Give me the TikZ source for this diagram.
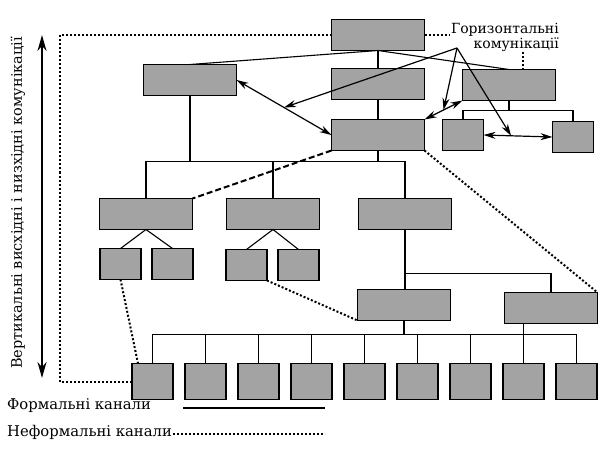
\documentclass[tikz,border=0pt]{standalone}
\usepackage{fontspec}
\setmainfont{DejaVu Serif}
\usetikzlibrary{arrows.meta, positioning, calc}

\begin{document}
\begin{tikzpicture}[
    x=1pt, y=-1pt,
    node distance=18pt and 12pt,
    >={Stealth[length=12pt, width=7pt]},
    font=\fontsize{14}{15}\selectfont,
    unit/.style={rectangle, draw, line width=1.3pt, fill=black!36, minimum width=93pt, minimum height=31pt, inner sep=0pt, outer sep=0pt},
    small/.style={unit, minimum width=41pt},
    cell/.style={unit, minimum width=41pt, minimum height=36pt},
    link/.style={line width=1.1pt},
    informal/.style={line width=2pt, dash pattern=on 2pt off 2pt},
    hint/.style={line width=2pt, dash pattern=on 6pt off 3pt},
    comm/.style={<->, line width=1.2pt},
    legendtext/.style={anchor=west, inner sep=0pt, font=\fontsize{14.8}{16}\selectfont}
]
\useasboundingbox (0,0) rectangle (600,452);
% boxes, top to bottom
\node[unit] (head) at (378,35) {};
\node[unit, below=18pt of head] (deptm) {};
\node[unit] (deptl) at (190,80) {};
\node[unit] (deptr) at (509,85) {};
\node[unit, below=20pt of deptm] (office) {};
\node[small] (acct) at (463,135) {};
\node[small] (audit) at (573,137) {};
\node[unit] (shopa) at (146,214) {};
\node[unit, right=34pt of shopa] (shopb) {};
\node[unit, right=39pt of shopb] (shopc) {};
\node[small] (teama1) at (120.5,264) {};
\node[small, right=11pt of teama1] (teama2) {};
\node[small] (teamb1) at (246.5,265) {};
\node[small, right=11pt of teamb1] (teamb2) {};
\node[unit] (crewd) at (404,305) {};
\node[unit] (crewe) at (551,308) {};
\node[cell] (w1) at (152.5,381.5) {};
\node[cell, right=of w1] (w2) {};
\node[cell, right=of w2] (w3) {};
\node[cell, right=of w3] (w4) {};
\node[cell, right=of w4] (w5) {};
\node[cell, right=of w5] (w6) {};
\node[cell, right=of w6] (w7) {};
\node[cell, right=of w7] (w8) {};
\node[cell, right=of w8] (w9) {};
% formal channels
\coordinate (rbus) at ($(deptr.south)+(0,10)$);
\coordinate (cbus) at ($(office.south)+(0,11)$);
\coordinate (dbus) at ($(shopc.south)+(0,44)$);
\coordinate (wbus) at ($(crewd.south)+(0,14)$);
\draw[link] (head.south) -- (deptl.north);
\draw[link] (head.south) -- (deptm.north);
\draw[link] (head.south) -- (deptr.north);
\draw[link] (deptm.south) -- (office.north);
\draw[link] (deptr.south) -- (rbus);
\draw[link] (acct.north) |- (rbus) -| (audit.north);
\draw[link] (office.south) -- (cbus);
\draw[link] (shopa.north) |- (cbus) -| (shopc.north);
\draw[link] (shopb.north) -- (shopb.north |- cbus);
\draw[link] (deptl.south) -- (deptl.south |- cbus);
\draw[link] (shopa.south) -- (teama1.north);
\draw[link] (shopa.south) -- (teama2.north);
\draw[link] (shopb.south) -- (teamb1.north);
\draw[link] (shopb.south) -- (teamb2.north);
\draw[link] (shopc.south) -- (shopc.south |- crewd.north);
\draw[link] (dbus) -| (crewe.north);
\draw[link] (crewd.south) -- (wbus);
\draw[link] (w1.north) |- (wbus) -| (w9.north);
\draw[link] (w2.north) -- (w2.north |- wbus);
\draw[link] (w3.north) -- (w3.north |- wbus);
\draw[link] (w4.north) -- (w4.north |- wbus);
\draw[link] (w5.north) -- (w5.north |- wbus);
\draw[link] (w6.north) -- (w6.north |- wbus);
\draw[link] (w7.north) -- (w7.north |- wbus);
\draw[link] (w8.north) -- (w8.north |- crewe.south);
% informal channels
\coordinate (vleft) at (60,200);
\draw[informal] (head.west) -| (vleft) |- (w1.west);
\draw[informal] (head.east) -| ([xshift=14pt]deptr.north);
\draw[informal] (office.south east) -- (crewe.north east);
\draw[informal] (teamb1.south east) -- (crewd.south west);
\draw[informal] (teama1.south) -- ([xshift=6pt]w1.north west);
\draw[hint] (office.south west) -- (shopa.north east);
% horizontal communications
\node[align=right, fill=white, inner sep=1pt, anchor=east] (hlabel) at (560,37) {Горизонтальні\\комунікації};
\coordinate (hub) at (457,48);
\draw[comm] (deptl.east) -- coordinate[pos=0.5] (hl) (office.west);
\draw[comm] (office.north east) -- coordinate[pos=0.5] (hm) (deptr.south west);
\draw[comm] (acct.east) -- coordinate[pos=0.4] (hr) (audit.west);
\draw[->, line width=1.2pt] (hub) -- (hl);
\draw[->, line width=1.2pt] (hub) -- (hm);
\draw[->, line width=1.2pt] (hub) -- (hr);
% vertical communications
\node[rotate=90, font=\fontsize{14.5}{16}\selectfont] (vlabel) at (18,203) {Вертикальні висхідні і низхідні комунікації};
\coordinate (vtop) at (42,35);
\coordinate (vbot) at (42,378);
\draw[<->, line width=2pt, >={Stealth[length=16pt, width=9pt]}] (vtop) -- (vbot);
% legend
\node[legendtext] (formal) at (7,406) {Формальні канали};
\node[legendtext] (informalkey) at (7,432) {Неформальні канали};
\coordinate (fstart) at (183,408);
\coordinate (fend) at (325,408);
\coordinate (istart) at (173,434);
\coordinate (iend) at (325,434);
\draw[link] (fstart) -- (fend);
\draw[informal, line width=1.5pt] (istart) -- (iend);
\end{tikzpicture}
\end{document}
